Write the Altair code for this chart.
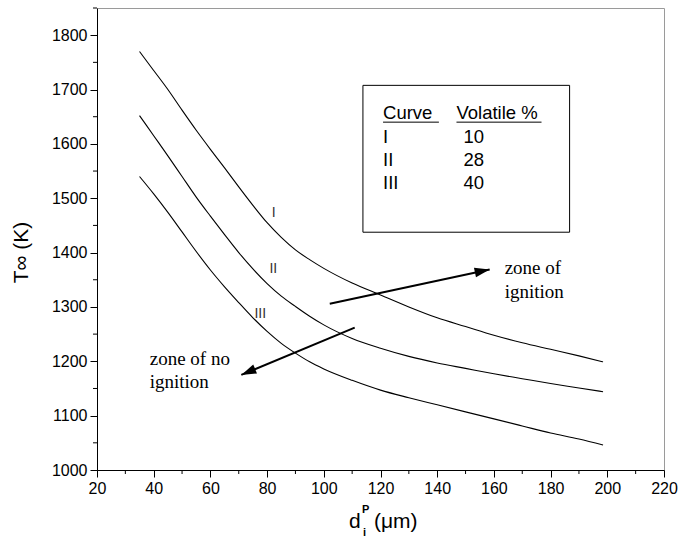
import altair as alt
import pandas as pd

# ---- data ----
d_um = [35, 40, 45, 50, 55, 60, 65, 70, 75, 80, 85, 90, 95, 100, 110, 120, 130, 140, 150, 160, 170, 180, 190, 198.5]
T_I = [1770, 1735, 1700, 1662, 1625, 1590, 1556, 1521, 1487, 1455, 1428, 1405, 1387, 1371, 1344, 1322, 1300, 1280, 1264, 1248, 1234, 1222, 1210, 1199]
T_II = [1652, 1615, 1578, 1540, 1502, 1467, 1433, 1400, 1370, 1343, 1320, 1301, 1283, 1267, 1242, 1224, 1209, 1197, 1187, 1177, 1168, 1159, 1151, 1144]
T_III = [1540, 1508, 1474, 1438, 1402, 1368, 1337, 1308, 1280, 1255, 1233, 1215, 1199, 1186, 1165, 1147, 1133, 1120, 1107, 1094, 1081, 1068, 1057, 1046]
curve_names = ["I", "II", "III"]

curve_label_d = [82.3, 82.2, 77.6]
curve_label_T = [1472, 1369, 1287]

volatile_pct = ["10", "28", "40"]

x_major = list(range(20, 221, 20))
x_minor = list(range(30, 211, 20))
y_major = list(range(1000, 1801, 100))
y_minor = list(range(1050, 1851, 100))

rows = []
for name, ts in zip(curve_names, [T_I, T_II, T_III]):
    for d, t in zip(d_um, ts):
        rows.append({"d": d, "T": t, "curve": name})
curves_df = pd.DataFrame(rows)

labels_df = pd.DataFrame({"d": curve_label_d, "T": curve_label_T, "label": curve_names})

x_scale = alt.Scale(domain=[20, 220], nice=False, zero=False)
y_scale = alt.Scale(domain=[1000, 1850], nice=False, zero=False)

x_axis = alt.Axis(values=x_major, title=None, tickSize=7, tickColor="black", tickWidth=1,
                  domainColor="black", domainWidth=1, labelColor="black", format="d",
                  labelFont="Liberation Sans", labelFontSize=16, labelPadding=3,
                  grid=False, labelFlush=False, labelOverlap=False)
y_axis = alt.Axis(values=y_major, title="T∞ (K)", tickSize=7, tickColor="black", tickWidth=1,
                  domainColor="black", domainWidth=1, labelColor="black", format="d",
                  labelFont="Liberation Sans", labelFontSize=16, labelPadding=3,
                  grid=False, labelFlush=False, labelOverlap=False,
                  titleFont="Liberation Sans", titleFontSize=21, titleFontWeight="normal",
                  titleColor="black", titleX=-76, titleY=244, titleAngle=270,
                  titleAlign="center", titleBaseline="middle")


def X(field):
    return alt.X(field, type="quantitative", scale=x_scale, axis=x_axis)


def Y(field):
    return alt.Y(field, type="quantitative", scale=y_scale, axis=y_axis)


lines = alt.Chart(curves_df).mark_line(color="black", strokeWidth=1.1, interpolate="monotone").encode(
    x=X("d"), y=Y("T"), detail="curve:N"
)

curve_labels = alt.Chart(labels_df).mark_text(
    font="Liberation Sans", fontSize=14, color="#333333", align="center", baseline="middle"
).encode(x=X("d"), y=Y("T"), text="label:N")

# minor ticks
xminor = alt.Chart(pd.DataFrame({"v": x_minor})).mark_rule(color="black", strokeWidth=1).encode(
    x=X("v"), y=alt.value(462), y2=alt.value(466)
)
yminor = alt.Chart(pd.DataFrame({"v": y_minor})).mark_rule(color="black", strokeWidth=1).encode(
    y=Y("v"), x=alt.value(0), x2=alt.value(-4)
)

# legend box
box = alt.Chart(pd.DataFrame({"x1": [113.8], "x2": [186.7], "y1": [1437.5], "y2": [1707.7]})).mark_rect(
    fillOpacity=0, stroke="black", strokeWidth=1
).encode(x=X("x1"), x2="x2:Q", y=Y("y1"), y2="y2:Q")

legend_txt_df = pd.DataFrame({
    "d": [120.9, 146.8, 120.9, 120.9, 120.9, 149.3, 149.3, 149.3],
    "T": [1646, 1646, 1602, 1560, 1517, 1602, 1560, 1517],
    "txt": ["Curve", "Volatile %"] + curve_names + volatile_pct,
})
legend_txt = alt.Chart(legend_txt_df).mark_text(
    font="Liberation Sans", fontSize=18.5, color="black", align="left", baseline="alphabetic"
).encode(x=X("d"), y=Y("T"), text="txt:N")

underline = alt.Chart(pd.DataFrame({"a": [120.9, 146.8], "b": [140.6, 176.8], "T": [1640, 1640]})).mark_rule(
    color="black", strokeWidth=1
).encode(x=X("a"), x2="b:Q", y=Y("T"))

# arrows
arrow_df = pd.DataFrame({"x0": [102.1, 110.9], "y0": [1306, 1262], "x1": [158.5, 70.9], "y1": [1369, 1175]})
arrow_lines = alt.Chart(arrow_df).mark_rule(color="black", strokeWidth=2).encode(
    x=X("x0"), y=Y("y0"), x2="x1:Q", y2="y1:Q"
)
head_path = "M0,0L0.32,1L-0.32,1Z"
head1 = alt.Chart(arrow_df.iloc[[0]]).mark_point(
    shape=head_path, filled=True, color="black", size=900, angle=78, opacity=1
).encode(x=X("x1"), y=Y("y1"))
head2 = alt.Chart(arrow_df.iloc[[1]]).mark_point(
    shape=head_path, filled=True, color="black", size=900, angle=247, opacity=1
).encode(x=X("x1"), y=Y("y1"))

zone_df = pd.DataFrame({
    "d": [163.8, 163.8, 38.6, 38.6],
    "T": [1361, 1317, 1193, 1151],
    "txt": ["zone of", "ignition", "zone of no", "ignition"],
})
zone_txt = alt.Chart(zone_df).mark_text(
    font="Liberation Serif", fontSize=19, color="black", align="left", baseline="alphabetic"
).encode(x=X("d"), y=Y("T"), text="txt:N")

# x-axis title pieces: d, superscript P, subscript i, (μm)
one = alt.Data(values=[{}])
t_d = alt.Chart(one).mark_text(text="d", font="Liberation Sans", fontSize=21, color="black",
                               align="left", baseline="alphabetic").encode(x=alt.value(252), y=alt.value(520))
t_p = alt.Chart(one).mark_text(text="P", font="Liberation Sans", fontSize=11, fontWeight="bold", color="black",
                               align="left", baseline="alphabetic").encode(x=alt.value(265), y=alt.value(505))
t_i = alt.Chart(one).mark_text(text="i", font="Liberation Sans", fontSize=11, fontWeight="bold", color="black",
                               align="left", baseline="alphabetic").encode(x=alt.value(266), y=alt.value(528))
t_u = alt.Chart(one).mark_text(text="(μm)", font="Liberation Sans", fontSize=21, color="black",
                               align="left", baseline="alphabetic").encode(x=alt.value(277), y=alt.value(520))

chart = alt.layer(
    lines, xminor, yminor, curve_labels, box, legend_txt, underline,
    arrow_lines, head1, head2, zone_txt, t_d, t_p, t_i, t_u
).properties(
    width=567, height=462,
    autosize=alt.AutoSizeParams(type="none"),
    padding={"left": 97, "top": 8, "right": 28, "bottom": 79},
    background="white",
).configure_view(stroke="#9a9a9a", strokeWidth=1)

chart.save("out.html", embed_options={"renderer": "svg", "actions": False})
